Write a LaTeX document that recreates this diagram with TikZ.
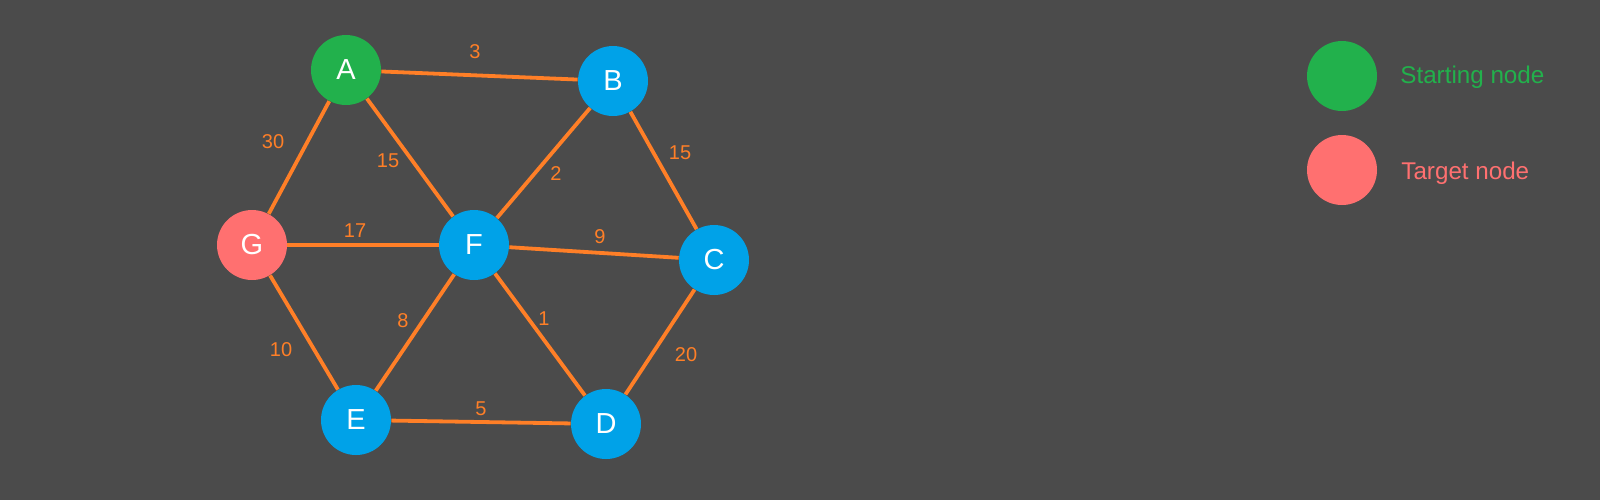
\documentclass[tikz,border=0pt]{standalone}
\usepackage{fontspec}
\setmainfont{Liberation Sans}
\definecolor{bg}{HTML}{4B4B4B}
\definecolor{nblue}{HTML}{00A2E8}
\definecolor{ngreen}{HTML}{22B14C}
\definecolor{npink}{HTML}{FF7070}
\definecolor{eorange}{HTML}{FF7F27}
\tikzset{
  gnode/.style={circle, minimum size=35pt, inner sep=0pt, text=white, font=\fontsize{14.5}{16}\selectfont},
  bnode/.style={gnode, fill=nblue},
  edge/.style={draw=eorange, line width=1.9pt},
  wlabel/.style={text=eorange, font=\fontsize{10}{12}\selectfont, inner sep=0pt},
  legtext/.style={anchor=base west, inner sep=0pt, font=\fontsize{12.1}{14}\selectfont}
}
\begin{document}
\begin{tikzpicture}[x=0.5pt, y=-0.5pt]
\fill[bg] (0,0) rectangle (1600,500);
\useasboundingbox (0,0) rectangle (1600,500);
\node[gnode, fill=ngreen] (A) at (346,70) {A};
\node[bnode] (B) at (613,81) {B};
\node[bnode] (C) at (714,260) {C};
\node[bnode] (D) at (606,424) {D};
\node[bnode] (E) at (356,420) {E};
\node[bnode] (F) at (474,245) {F};
\node[gnode, fill=npink] (G) at (252,245) {G};
\draw[edge] (A) -- (B);
\draw[edge] (A) -- (G);
\draw[edge] (A) -- (F);
\draw[edge] (B) -- (F);
\draw[edge] (B) -- (C);
\draw[edge] (G) -- (F);
\draw[edge] (F) -- (C);
\draw[edge] (G) -- (E);
\draw[edge] (F) -- (E);
\draw[edge] (F) -- (D);
\draw[edge] (C) -- (D);
\draw[edge] (E) -- (D);
\node[wlabel] (l3) at (475,52) {3};
\node[wlabel] (l30) at (273,142) {30};
\node[wlabel] (l15a) at (388,161) {15};
\node[wlabel] (l2) at (556,174) {2};
\node[wlabel] (l15b) at (680,153) {15};
\node[wlabel] (l17) at (355,231) {17};
\node[wlabel] (l9) at (600,237) {9};
\node[wlabel] (l10) at (281,350) {10};
\node[wlabel] (l8) at (403,321) {8};
\node[wlabel] (l1) at (544,319) {1};
\node[wlabel] (l20) at (686,355) {20};
\node[wlabel] (l5) at (481,409) {5};
\node[gnode, fill=ngreen] (LS) at (1342,76) {};
\node[gnode, fill=npink] (LT) at (1342,170) {};
\node[legtext, text=ngreen] (TS) at (1400,83) {Starting node};
\node[legtext, text=npink] (TT) at (1401,179) {Target node};
\end{tikzpicture}
\end{document}
